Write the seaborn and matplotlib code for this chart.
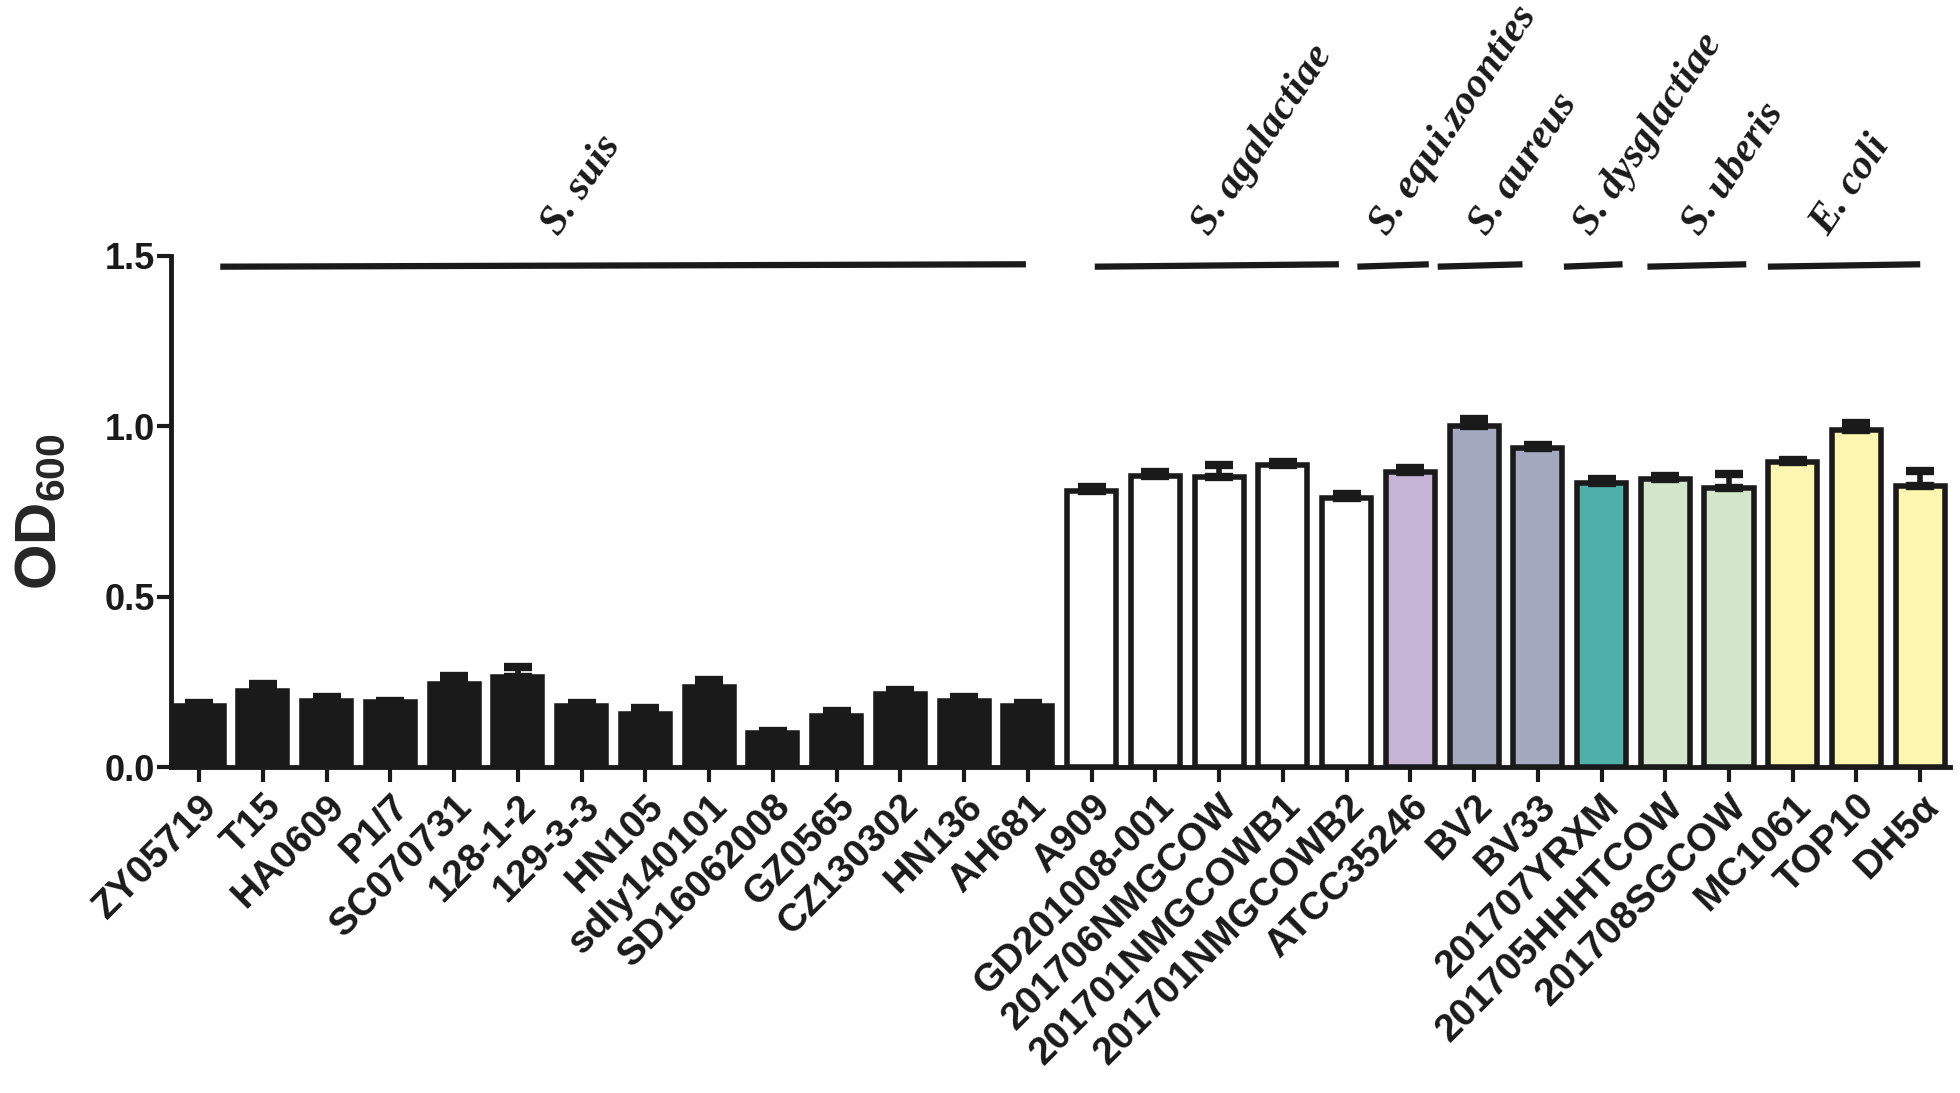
import numpy as np
import pandas as pd
import seaborn as sns
import matplotlib.pyplot as plt

strains = ["ZY05719", "T15", "HA0609", "P1/7", "SC070731", "128-1-2", "129-3-3",
           "HN105", "sdly140101", "SD16062008", "GZ0565", "CZ130302", "HN136", "AH681",
           "A909", "GD201008-001", "201706NMGCOW", "201701NMGCOWB1", "201701NMGCOWB2",
           "ATCC35246", "BV2", "BV33", "201707YRXM", "201705HHHTCOW", "201708SGCOW",
           "MC1061", "TOP10", "DH5α"]
od600 = [0.18, 0.225, 0.195, 0.19, 0.245, 0.265, 0.18, 0.155, 0.235, 0.10, 0.15,
         0.215, 0.195, 0.18,
         0.81, 0.855, 0.85, 0.885, 0.79,
         0.865, 1.0, 0.935, 0.835, 0.845, 0.82, 0.895, 0.99, 0.825]
sem = [0.008, 0.02, 0.012, 0.005, 0.022, 0.03, 0.008, 0.02, 0.02, 0.005, 0.015,
       0.012, 0.012, 0.008,
       0.012, 0.01, 0.035, 0.01, 0.012,
       0.012, 0.022, 0.01, 0.01, 0.01, 0.04, 0.006, 0.02, 0.045]
species = ["S. suis"] * 14 + ["S. agalactiae"] * 5 + ["S. equi.zoonties"] + \
          ["S. aureus"] * 2 + ["S. dysglactiae"] + ["S. uberis"] * 2 + ["E. coli"] * 3
species_colors = {"S. suis": "#1a1a1a", "S. agalactiae": "#ffffff",
                  "S. equi.zoonties": "#c5b4d4", "S. aureus": "#a3a8bf",
                  "S. dysglactiae": "#4fb0a9", "S. uberis": "#d3e6cb",
                  "E. coli": "#fcf6b0"}
# bracket extents above each species group and where its name starts (bar-index units)
group_lines = {"S. suis": (0.33, 12.97), "S. agalactiae": (14.05, 17.88),
               "S. equi.zoonties": (18.17, 19.29), "S. aureus": (19.43, 20.76),
               "S. dysglactiae": (21.41, 22.33), "S. uberis": (22.72, 24.27),
               "E. coli": (24.61, 27.0)}
label_x = {"S. suis": 5.65, "S. agalactiae": 15.85, "S. equi.zoonties": 18.65,
           "S. aureus": 20.2, "S. dysglactiae": 21.85, "S. uberis": 23.55,
           "E. coli": 25.55}

df = pd.DataFrame({"strain": strains, "od": od600, "sem": sem, "species": species})

sns.set_style("ticks")
plt.rcParams['font.family'] = ['Liberation Sans', 'DejaVu Sans']
plt.rcParams['mathtext.fontset'] = 'custom'
plt.rcParams['mathtext.rm'] = 'Liberation Sans:bold'
plt.rcParams['mathtext.bf'] = 'Liberation Sans:bold'
plt.rcParams['text.color'] = '#1a1a1a'

fig = plt.figure(figsize=(19.6, 10.93), dpi=100)
ax = fig.add_axes([0.087, 0.298, 0.908, 0.468])

pal = {s: species_colors[sp] for s, sp in zip(strains, species)}
sns.barplot(data=df, x="strain", y="od", hue="strain", palette=pal, legend=False,
            width=0.77, edgecolor="#1a1a1a", linewidth=4, saturation=1, errorbar=None, ax=ax)
ax.errorbar(np.arange(len(strains)), df["od"], yerr=[np.zeros(len(sem)), df["sem"]],
            fmt="none", ecolor="#1a1a1a", elinewidth=4, capsize=10, capthick=6, zorder=1)

ax.set_ylim(0, 1.5)
ax.set_xlim(-0.45, len(strains) - 0.53)
ax.set_yticks([0, 0.5, 1.0, 1.5])
ax.set_yticklabels(["0.0", "0.5", "1.0", "1.5"], fontsize=26, fontweight="bold",
                   color="#1a1a1a")
ax.set_xticks(np.arange(len(strains)))
ax.set_xticklabels(strains, rotation=45, ha="right", rotation_mode="anchor",
                   fontsize=28, fontweight="bold", color="#1a1a1a")
ax.set_xlabel("")
ax.set_ylabel(r"OD$_{600}$", fontsize=42, fontweight="bold")
ax.yaxis.set_label_coords(-0.058, 0.5)
sns.despine(ax=ax)
for sp in ["left", "bottom"]:
    ax.spines[sp].set_linewidth(3.5)
    ax.spines[sp].set_color("#1a1a1a")
ax.tick_params(axis="x", length=11, width=3, pad=4, color="#1a1a1a")
ax.tick_params(axis="y", length=10, width=3, pad=1, color="#1a1a1a")

for sp, (x0, x1) in group_lines.items():
    ax.plot([x0, x1], [1.468, 1.475], color="#1a1a1a", lw=4.5, clip_on=False,
            solid_capstyle="butt")
    ax.text(label_x[sp], 1.555, sp, rotation=56, rotation_mode="anchor", ha="left",
            va="baseline", fontsize=30, fontstyle="italic", fontweight="bold",
            family=["Liberation Serif", "DejaVu Serif"], clip_on=False)

fig.savefig("out.png", dpi=100)
